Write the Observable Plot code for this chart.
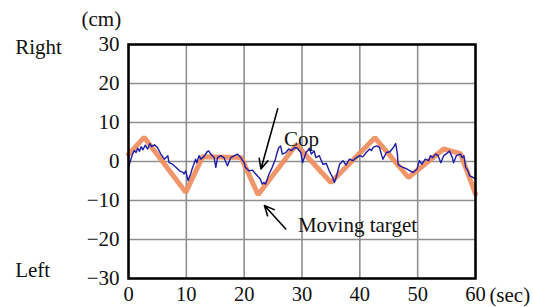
<!DOCTYPE html>
<html>
<head>
<meta charset="utf-8">
<script src="https://cdn.jsdelivr.net/npm/d3@7"></script>
<script src="https://cdn.jsdelivr.net/npm/@observablehq/plot@0.6"></script>
<style>
  html, body { margin: 0; padding: 0; background: #fff; }
</style>
</head>
<body>
<div id="chart"></div>
<script>
// Time ticks (sec) and displacement ticks (cm)
const xTicks = [0, 10, 20, 30, 40, 50, 60];
const yTicks = [-30, -20, -10, 0, 10, 20, 30];

// Moving target (orange) vertices
const targetT = [0, 2.7, 9.9, 12.8, 19.5, 22.4, 29.0, 35.0, 42.6, 48.4, 54.5, 57.4, 60];
const targetV = [1.8, 6.2, -7.9, 1.2, 1.0, -8.5, 4.3, -5.4, 6.1, -4.1, 3.2, 2.0, -8.3];

// CoP (blue) trace
const copT = [0.0,0.4,0.7,1.0,1.3,1.6,1.9,2.2,2.5,2.9,3.3,3.7,4.0,4.5,5.0,5.6,6.2,6.8,7.0,7.6,8.2,8.8,9.4,9.6,9.9,10.3,10.75,11.0,11.3,11.6,11.8,12.2,12.5,13.0,13.6,13.9,14.2,14.8,15.1,15.4,15.95,16.5,17.1,17.7,18.3,18.85,19.4,20.0,20.2,20.8,21.4,22.0,22.3,22.8,23.1,23.4,23.7,24.3,24.85,25.4,25.7,26.0,26.3,26.6,27.2,27.7,28.2,28.7,29.2,29.8,30.1,30.4,30.7,31.3,31.6,32.1,32.4,33.0,33.6,34.2,34.7,35.3,35.6,35.9,36.5,37.1,37.6,38.2,38.8,39.4,40.0,40.5,41.1,41.7,42.0,42.3,42.9,43.4,43.8,44.0,44.6,45.2,45.8,46.2,46.5,46.6,47.0,47.5,48.1,48.7,49.2,49.9,50.3,50.75,51.3,51.9,52.2,52.6,53.1,53.5,54.0,54.5,55.0,55.5,56.0,56.2,56.7,57.4,57.7,58.0,58.3,58.7,59.0,59.5,60.0];
const copV = [-1.5,0.5,1.9,2.8,2.3,3.4,2.6,3.8,3.0,4.2,3.2,4.6,3.8,4.3,3.6,1.9,0.6,1.5,-0.3,-0.7,-1.5,-2.4,-2.8,-3.2,-2.4,-4.9,-3.2,-1.9,-0.7,0.6,-0.3,1.5,0.6,1.2,2.5,2.7,1.9,1.0,-1.5,1.0,1.5,1.0,-1.1,1.0,1.5,1.9,1.0,-0.3,-1.5,-2.4,-2.2,-3.2,-3.7,-4.5,-5.8,-5.4,-5.8,-3.2,-1.5,0.6,2.3,3.6,4.0,1.9,2.3,3.2,2.8,3.6,3.4,2.3,-0.3,1.0,2.3,3.4,1.9,2.7,1.0,1.5,-0.7,-0.5,-2.4,-4.1,-5.4,-4.1,-0.7,0.2,-0.9,0.6,0.2,1.0,1.5,1.2,2.3,3.2,2.8,3.6,4.0,3.6,1.5,0.6,2.3,2.5,3.6,4.6,1.9,-0.7,-1.2,-1.5,-1.9,-2.4,-2.8,-1.9,0.2,-0.7,0.6,0.2,1.5,1.0,1.9,1.6,-0.3,1.5,2.0,2.7,1.0,-0.3,1.5,1.9,1.0,1.5,-1.5,-2.4,-3.7,-4.0,-4.5];

// Labels around the frame
const unitText = ["(cm)"];
const unitT = [-4.7];
const unitV = [36.5];
const sideText = ["Right", "Left", "(sec)"];
const sideT = [-19.6, -19.6, 62.4];
const sideV = [29.2, -28.0, -34.3];

// Annotations
const noteText = ["Cop", "Moving target"];
const noteT = [26.9, 29.3];
const noteV = [5.6, -16.4];
const arrowT1 = [25.8, 27.2];
const arrowV1 = [13.5, -17.3];
const arrowT2 = [22.9, 23.5];
const arrowV2 = [-1.9, -11.3];

const target = targetT.map((t, i) => ({t, v: targetV[i]}));
const cop = copT.map((t, i) => ({t, v: copV[i]}));
const units = unitText.map((s, i) => ({s, t: unitT[i], v: unitV[i]}));
const sides = sideText.map((s, i) => ({s, t: sideT[i], v: sideV[i]}));
const notes = noteText.map((s, i) => ({s, t: noteT[i], v: noteV[i]}));
const arrows = arrowT1.map((t, i) => ({x1: t, y1: arrowV1[i], x2: arrowT2[i], y2: arrowV2[i]}));

const font = "'Liberation Serif', 'Times New Roman', serif";
const fs = 21;
const fsx = 20.5;

const chart = Plot.plot({
  width: 533,
  height: 307,
  marginLeft: 128,
  marginRight: 58,
  marginTop: 44,
  marginBottom: 29,
  style: {fontFamily: font, fontSize: fs + "px", color: "#111", background: "#fff", overflow: "visible"},
  x: {domain: [0, 60], ticks: xTicks},
  y: {domain: [-30, 30], ticks: yTicks},
  marks: [
    Plot.gridX(xTicks, {stroke: "#8f8f8f", strokeWidth: 1.6, strokeOpacity: 1}),
    Plot.gridY(yTicks, {stroke: "#8f8f8f", strokeWidth: 1.6, strokeOpacity: 1}),
    Plot.line(target, {x: "t", y: "v", stroke: "#f08a5a", strokeWidth: 5, strokeOpacity: 0.9, strokeLinejoin: "miter"}),
    Plot.line(cop, {x: "t", y: "v", stroke: "#1c1ca8", strokeWidth: 1.4}),
    Plot.frame({stroke: "#000", strokeWidth: 2.5}),
    Plot.axisX(xTicks, {tickSize: 0, tickPadding: 8, label: null, fontSize: fsx, fill: "#111"}),
    Plot.axisY(yTicks, {tickSize: 0, tickPadding: 9, label: null, fontSize: fs, fill: "#111"}),
    Plot.text(units, {x: "t", y: "v", text: "s", textAnchor: "middle", fontSize: fs, fill: "#111"}),
    Plot.text(sides, {x: "t", y: "v", text: "s", textAnchor: "start", fontSize: fs, fill: "#111"}),
    Plot.text(notes, {x: "t", y: "v", text: "s", textAnchor: "start", fontSize: fs, fill: "#111"}),
    Plot.arrow(arrows, {x1: "x1", y1: "y1", x2: "x2", y2: "y2", stroke: "#000", strokeWidth: 1.6, headLength: 10, headAngle: 50})
  ]
});
document.getElementById("chart").appendChild(chart);
</script>
</body>
</html>
